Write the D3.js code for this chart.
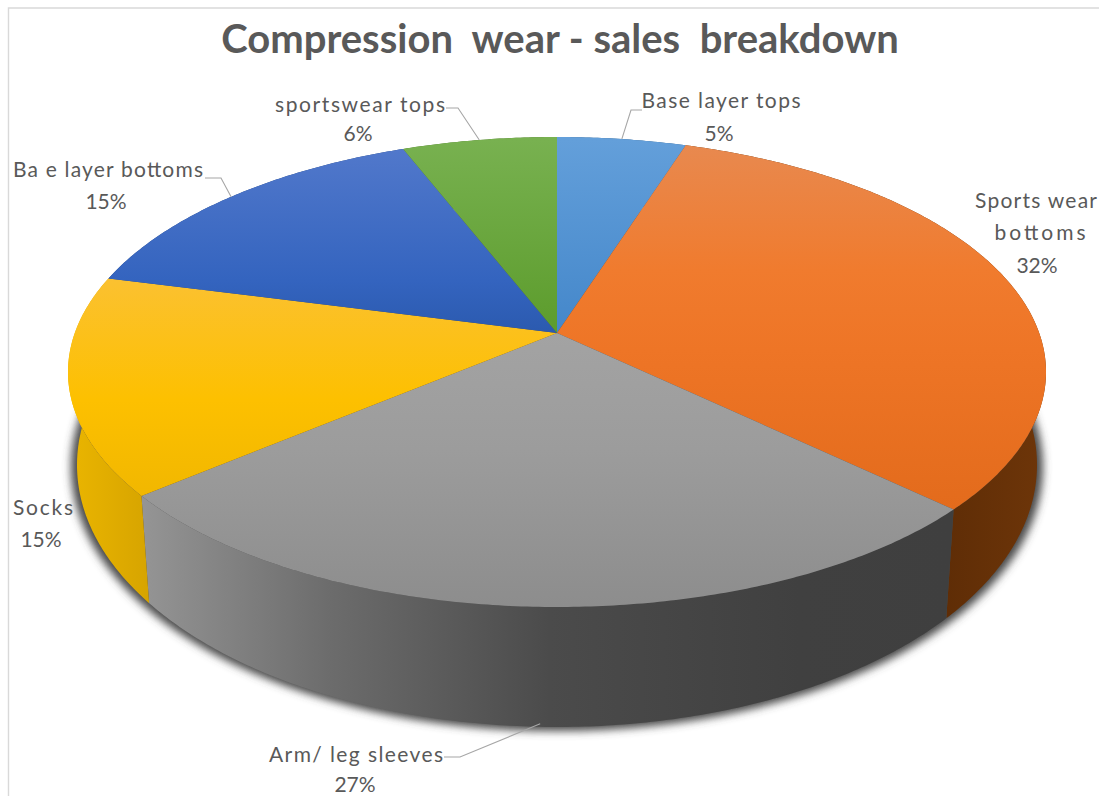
<!DOCTYPE html>
<html>
<head>
<meta charset="utf-8">
<script src="https://cdn.jsdelivr.net/npm/d3@7/dist/d3.min.js"></script>
<style>
  html, body { margin: 0; padding: 0; background: #fff; overflow: hidden; }
  svg { display: block; }
  text { font-family: Lato, "Open Sans", sans-serif; fill: #595959; white-space: pre; }
</style>
</head>
<body>
<script>
// Sales shares per product line, clockwise from twelve o'clock.
const categories = ["Base layer tops", "Sports wear bottoms", "Arm/ leg sleeves", "Socks", "Bae layer bottoms", "sportswear tops"];
const shares = [5, 32, 27, 15, 15, 6];
const chartTitle = "Compression  wear - sales  breakdown";

// Top-face colour ramps: [y, colour] stops running down the page.
const topRamps = [
  [[140, "#639fda"], [333, "#4487ca"]],
  [[145, "#e8894f"], [270, "#f07b2e"], [350, "#ee7526"], [510, "#e36b1c"]],
  [[333, "#a3a3a3"], [450, "#9c9c9c"], [605, "#8d8d8d"]],
  [[280, "#fbc130"], [400, "#fdc000"], [497, "#f1b700"]],
  [[150, "#5178cb"], [280, "#3464bf"], [333, "#2b5aaf"]],
  [[140, "#78b150"], [333, "#5c9c2c"]]
];
// Outer wall colour ramps: [x, colour] stops running across the page.
const wallRamps = [
  [[557, "#2e5f8c"], [690, "#2e5f8c"]],
  [[947, "#5f2d06"], [1040, "#6d3509"]],
  [[145, "#949494"], [330, "#6c6c6c"], [550, "#4b4b4b"], [800, "#404040"], [950, "#3f3f3f"]],
  [[75, "#e9b400"], [150, "#d6a400"]],
  [[110, "#24457f"], [410, "#24457f"]],
  [[410, "#44701f"], [557, "#44701f"]]
];

// Label text lines and their placement. Each line: [text, x, baseline, anchor, drawn width].
const labelLines = [
  [["Base layer tops", 721, 108, "middle", 159], [null, 719, 141]],
  [["Sports wear", 975, 208, "start", 122], ["bottoms", 1040, 240, "middle", 91], [null, 1037, 273]],
  [["Arm/ leg sleeves", 356, 762, "middle", 174], [null, 355, 792]],
  [["Socks", 43, 515, "middle", 60], [null, 41, 547]],
  [["Ba e layer bottoms", 108, 177, "middle", 190], [null, 106, 209]],
  [["sportswear tops", 360, 112, "middle", 170], [null, 358, 141]]
];
// Leader lines: label-side points, ending at the slice's rim midpoint.
const leaderElbows = [
  [[642, 110], [631, 110]],
  null,
  [[444, 757], [460, 757]],
  null,
  [[205, 178], [221, 178]],
  [[446, 108], [458, 108]]
];

const width = 1099, height = 796;
const svg = d3.select("body").append("svg").attr("width", width).attr("height", height);
const defs = svg.append("defs");

// Frame of the chart area: only its top and left edges are in view.
svg.append("path")
  .attr("d", d3.line()([[8.5, height], [8.5, 8], [width, 8]]))
  .attr("fill", "none").attr("stroke", "#d9d9d9").attr("stroke-width", 1.4);

// Perspective: the disc maps to an ellipse with its centre pulled towards the back.
const tilt = 0.166;
const topDisc = { cx: 557, cy: 372, rx: 489, ry: 235 };
const baseDisc = { cx: 557, cy: 465, rx: 480, ry: 262 };
function project(disc, angle, r = 1) {
  const u = r * Math.sin(angle), v = -r * Math.cos(angle);
  const d = 1 - tilt * v;
  return [
    disc.cx + disc.rx * u * Math.sqrt(1 - tilt * tilt) / d,
    disc.cy + disc.ry * (v - tilt) / d
  ];
}
function rimSamples(disc, a0, a1) {
  const n = Math.max(8, Math.ceil((a1 - a0) / 0.01));
  return d3.range(n + 1).map(i => project(disc, a0 + (a1 - a0) * i / n));
}

const arcs = d3.pie().sort(null).value(d => d)(shares);
const polygon = d3.line().curve(d3.curveLinearClosed);

function ramp(id, stops, x1, y1, x2, y2) {
  const lo = stops[0][0], hi = stops[stops.length - 1][0];
  const g = defs.append("linearGradient").attr("id", id)
    .attr("gradientUnits", "userSpaceOnUse")
    .attr("x1", x1(lo)).attr("y1", y1(lo)).attr("x2", x2(hi)).attr("y2", y2(hi));
  stops.forEach(s => g.append("stop").attr("offset", (s[0] - lo) / (hi - lo || 1)).attr("stop-color", s[1]));
}
topRamps.forEach((s, i) => ramp("top" + i, s, () => 0, y => y, () => 0, y => y));
wallRamps.forEach((s, i) => ramp("wall" + i, s, x => x, () => 0, x => x, () => 0));

// Soft cast shadow under the disc.
const blur = defs.append("filter").attr("id", "soft")
  .attr("x", "-5%").attr("y", "-5%").attr("width", "110%").attr("height", "110%");
blur.append("feGaussianBlur").attr("stdDeviation", 4);
svg.append("ellipse")
  .attr("cx", baseDisc.cx).attr("cy", baseDisc.cy + 2)
  .attr("rx", baseDisc.rx + 6).attr("ry", baseDisc.ry + 2)
  .attr("fill", "#484848").attr("filter", "url(#soft)");

// Outer walls, then the top faces over them.
svg.append("g").selectAll("path").data(arcs).join("path")
  .attr("d", d => polygon([
    ...rimSamples(topDisc, d.startAngle, d.endAngle),
    ...rimSamples(baseDisc, d.startAngle, d.endAngle).reverse()
  ]))
  .attr("fill", (d, i) => `url(#wall${i})`);

svg.append("g").selectAll("path").data(arcs).join("path")
  .attr("d", d => polygon([project(topDisc, 0, 0), ...rimSamples(topDisc, d.startAngle, d.endAngle)]))
  .attr("fill", (d, i) => `url(#top${i})`);

// Leader lines end on the rim at each slice's mid-angle.
const leader = d3.line();
svg.append("g").selectAll("path").data(arcs).join("path")
  .attr("d", (d, i) => {
    if (!leaderElbows[i]) return null;
    const mid = (d.startAngle + d.endAngle) / 2;
    const front = Math.cos(mid) < 0;
    const end = front ? project(baseDisc, mid) : project(topDisc, mid);
    return leader([...leaderElbows[i], front ? [end[0] + 1, end[1] - 3] : end]);
  })
  .attr("fill", "none").attr("stroke", "#a6a6a6").attr("stroke-width", 1.1);

// Slice labels: name lines followed by the share.
const percent = v => d3.format("d")(v) + "%";
const labels = svg.append("g").attr("font-size", 21);
labelLines.forEach((lines, i) => {
  lines.forEach(l => {
    const t = labels.append("text")
      .attr("x", l[1]).attr("y", l[2])
      .attr("text-anchor", l[3] || "middle")
      .text(l[0] === null ? percent(shares[i]) : l[0]);
    if (l[4]) t.attr("textLength", l[4]).attr("lengthAdjust", "spacing");
  });
});

svg.append("text")
  .attr("x", 560).attr("y", 53)
  .attr("text-anchor", "middle")
  .attr("font-size", 40).attr("font-weight", 700)
  .text(chartTitle);
</script>
</body>
</html>
